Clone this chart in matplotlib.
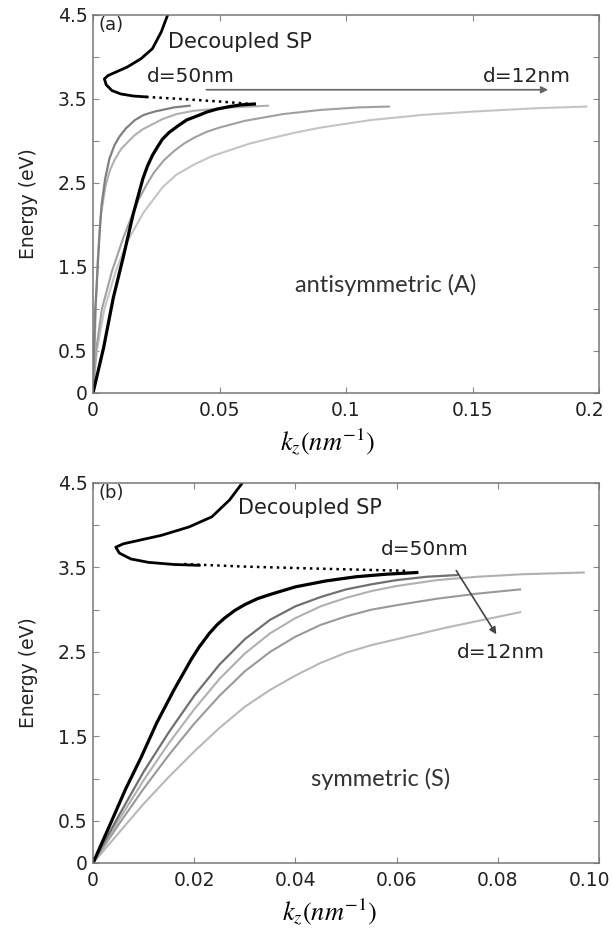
import numpy as np
import matplotlib
matplotlib.use('Agg')
import matplotlib.pyplot as plt
from matplotlib.transforms import ScaledTranslation

plt.rcParams['font.family'] = 'DejaVu Sans'
plt.rcParams['mathtext.fontset'] = 'stix'

# decoupled surface plasmon branch (same in both panels)
sp_k = [0.0295, 0.027, 0.0235, 0.019, 0.0135, 0.009, 0.006, 0.0045, 0.0052, 0.0075, 0.011, 0.016, 0.021]
sp_E = [4.5, 4.3, 4.1, 3.98, 3.88, 3.82, 3.78, 3.74, 3.67, 3.6, 3.56, 3.535, 3.525]

# dotted continuation
dot_a_k = [0.021, 0.035, 0.05, 0.063]
dot_a_E = [3.525, 3.50, 3.47, 3.44]
dot_b_k = [0.018, 0.03, 0.045, 0.062]
dot_b_E = [3.54, 3.51, 3.485, 3.46]

# (a) antisymmetric modes
a_black_k = [0, 0.0042, 0.008, 0.0119, 0.0158, 0.0197, 0.0215, 0.0235, 0.0255, 0.0274, 0.030,
             0.0336, 0.037, 0.0413, 0.045, 0.049, 0.054, 0.0584, 0.0638]
a_black_E = [0, 0.54, 1.13, 1.61, 2.12, 2.55, 2.70, 2.83, 2.93, 3.02, 3.10,
             3.18, 3.25, 3.30, 3.345, 3.38, 3.41, 3.43, 3.44]

a_g1_k = [0, 0.0004, 0.0009, 0.0015, 0.0019, 0.0026, 0.0034, 0.0048, 0.0065, 0.0085, 0.0104,
          0.013, 0.0166, 0.02, 0.0243, 0.032, 0.0382]
a_g1_E = [0, 0.5, 1.0, 1.3, 1.53, 1.9, 2.24, 2.55, 2.79, 2.95, 3.05,
          3.15, 3.25, 3.31, 3.35, 3.40, 3.42]

a_g2_k = [0, 0.0006, 0.0012, 0.0019, 0.003, 0.005, 0.0068, 0.0088, 0.011, 0.0135, 0.0165,
          0.0197, 0.0274, 0.033, 0.0398, 0.0553, 0.0692]
a_g2_E = [0, 0.5, 1.1, 1.6, 2.1, 2.47, 2.66, 2.79, 2.9, 2.98, 3.07,
          3.14, 3.26, 3.32, 3.36, 3.40, 3.42]

a_g3_k = [0, 0.0012, 0.0035, 0.0075, 0.012, 0.015, 0.018, 0.021, 0.024, 0.028, 0.032, 0.036, 0.04,
          0.045, 0.05, 0.06, 0.075, 0.09, 0.105, 0.117]
a_g3_E = [0, 0.5, 1.0, 1.45, 1.85, 2.08, 2.3, 2.47, 2.62, 2.77, 2.88, 2.97, 3.04,
          3.11, 3.16, 3.24, 3.32, 3.37, 3.40, 3.41]

a_g4_k = [0, 0.0015, 0.0045, 0.009, 0.0135, 0.02, 0.0275, 0.033, 0.04, 0.047, 0.055, 0.062, 0.07,
          0.08, 0.09, 0.11, 0.13, 0.15, 0.175, 0.195]
a_g4_E = [0, 0.5, 1.0, 1.45, 1.8, 2.15, 2.45, 2.6, 2.72, 2.82, 2.9, 2.97, 3.03,
          3.1, 3.16, 3.25, 3.31, 3.35, 3.39, 3.41]

# (b) symmetric modes
b_black_k = [0, 0.0037, 0.0064, 0.0095, 0.0126, 0.016, 0.0195, 0.021, 0.023, 0.0245, 0.026, 0.028,
             0.030, 0.0325, 0.035, 0.040, 0.046, 0.052, 0.058, 0.064]
b_black_E = [0, 0.5, 0.87, 1.25, 1.66, 2.05, 2.42, 2.56, 2.72, 2.82, 2.9, 2.99,
             3.06, 3.13, 3.18, 3.27, 3.34, 3.39, 3.42, 3.44]

b_g1_k = [0, 0.005, 0.01, 0.015, 0.02, 0.025, 0.03, 0.035, 0.04, 0.045, 0.05, 0.055, 0.06, 0.066, 0.072]
b_g1_E = [0, 0.55, 1.08, 1.55, 1.98, 2.35, 2.65, 2.88, 3.04, 3.15, 3.24, 3.30, 3.35, 3.39, 3.41]

b_g2_k = [0, 0.005, 0.01, 0.015, 0.02, 0.025, 0.03, 0.035, 0.04, 0.045, 0.05, 0.055, 0.06, 0.068, 0.076, 0.085, 0.097]
b_g2_E = [0, 0.5, 0.98, 1.42, 1.82, 2.18, 2.48, 2.72, 2.9, 3.04, 3.14, 3.22, 3.28, 3.35, 3.39, 3.42, 3.44]

b_g3_k = [0, 0.005, 0.01, 0.015, 0.02, 0.025, 0.03, 0.035, 0.04, 0.045, 0.05, 0.055, 0.0607, 0.068, 0.076, 0.0844]
b_g3_E = [0, 0.45, 0.88, 1.28, 1.65, 1.98, 2.27, 2.5, 2.68, 2.82, 2.92, 3.0, 3.06, 3.13, 3.19, 3.24]

b_g4_k = [0, 0.005, 0.01, 0.015, 0.02, 0.025, 0.03, 0.035, 0.04, 0.045, 0.05, 0.055, 0.0607, 0.07, 0.0844]
b_g4_E = [0, 0.35, 0.7, 1.02, 1.32, 1.6, 1.85, 2.05, 2.22, 2.37, 2.49, 2.58, 2.66, 2.79, 2.97]

y_ticks = [0, 0.5, 1, 1.5, 2, 2.5, 3, 3.5, 4, 4.5]
y_labels = ['0', '0.5', '', '1.5', '', '2.5', '', '3.5', '', '4.5']
xa_ticks = [0, 0.05, 0.1, 0.15, 0.2]
xa_labels = ['0', '0.05', '0.1', '0.15', '0.2']
xb_ticks = [0, 0.02, 0.04, 0.06, 0.08, 0.1]
xb_labels = ['0', '0.02', '0.04', '0.06', '0.08', '0.10']

W, H = 613, 932
fig = plt.figure(figsize=(W / 100, H / 100), dpi=100)
ax1 = fig.add_axes([93 / W, 1 - 393 / H, 506 / W, 378 / H])
ax2 = fig.add_axes([93 / W, 1 - 863 / H, 506 / W, 380 / H])


def style_axes(ax, xmax, xt, xl):
    ax.set_xlim(0, xmax)
    ax.set_ylim(0, 4.5)
    ax.set_xticks(xt)
    ax.set_xticklabels(xl)
    ax.set_yticks(y_ticks)
    ax.set_yticklabels(y_labels)
    ax.tick_params(direction='in', length=4, width=0.8, color='#888888',
                   top=True, right=True, labelsize=13.5, labelcolor='#222222')
    ax.tick_params(axis='x', pad=6)
    ax.tick_params(axis='y', pad=4)
    for s in ax.spines.values():
        s.set_color('#777777')
        s.set_linewidth(1.1)
    ax.set_ylabel('Energy (eV)', fontsize=13.5, color='#222222', labelpad=14)
    # last x label sits on the figure edge, nudge it inside
    last = ax.get_xticklabels()[-1]
    last.set_transform(last.get_transform() + ScaledTranslation(-9 / 100, 0, fig.dpi_scale_trans))


# panel (a)
ax1.plot(a_g4_k, a_g4_E, color='#c4c4c4', lw=1.5)
ax1.plot(a_g3_k, a_g3_E, color='#a0a0a0', lw=1.5)
ax1.plot(a_g2_k, a_g2_E, color='#b0b0b0', lw=1.5)
ax1.plot(a_g1_k, a_g1_E, color='#808080', lw=1.6)
ax1.plot(a_black_k, a_black_E, color='black', lw=2.3)
ax1.plot(sp_k, sp_E, color='black', lw=2.0)
ax1.plot(dot_a_k, dot_a_E, color='black', lw=1.8, ls=':')
ax1.annotate('', xy=(0.181, 3.61), xytext=(0.0437, 3.61),
             arrowprops=dict(arrowstyle='-|>', color='#666666', lw=1.2,
                             mutation_scale=10))
ax1.text(0.002, 4.38, '(a)', fontsize=13, color='#222222', va='center')
ax1.text(0.0297, 4.18, 'Decoupled SP', fontsize=15, color='#222222', va='center')
ax1.text(0.0212, 3.77, 'd=50nm', fontsize=14.5, color='#222222', va='center')
ax1.text(0.154, 3.77, 'd=12nm', fontsize=14.5, color='#222222', va='center')
ax1.text(0.1156, 1.29, 'antisymmetric (A)', fontsize=17, family='Lato',
         color='#333333', ha='center', va='center')
style_axes(ax1, 0.2, xa_ticks, xa_labels)

# panel (b)
ax2.plot(b_g4_k, b_g4_E, color='#b8b8b8', lw=1.5)
ax2.plot(b_g3_k, b_g3_E, color='#999999', lw=1.5)
ax2.plot(b_g2_k, b_g2_E, color='#b0b0b0', lw=1.5)
ax2.plot(b_g1_k, b_g1_E, color='#707070', lw=1.6)
ax2.plot(b_black_k, b_black_E, color='black', lw=2.3)
ax2.plot(sp_k, sp_E, color='black', lw=2.0)
ax2.plot(dot_b_k, dot_b_E, color='black', lw=1.8, ls=':')
ax2.annotate('', xy=(0.080, 2.68), xytext=(0.0715, 3.49),
             arrowprops=dict(arrowstyle='-|>', color='#444444', lw=1.2,
                             mutation_scale=10))
ax2.text(0.001, 4.38, '(b)', fontsize=13, color='#222222', va='center')
ax2.text(0.0287, 4.20, 'Decoupled SP', fontsize=15, color='#222222', va='center')
ax2.text(0.0569, 3.71, 'd=50nm', fontsize=14.5, color='#222222', va='center')
ax2.text(0.0719, 2.49, 'd=12nm', fontsize=14.5, color='#222222', va='center')
ax2.text(0.0569, 0.99, 'symmetric (S)', fontsize=17, family='Lato',
         color='#333333', ha='center', va='center')
style_axes(ax2, 0.1, xb_ticks, xb_labels)

# x labels in math italic
fig.text(328 / W, 1 - 442 / H, r'$k_z(nm^{-1})$', fontsize=19, ha='center', va='center')
fig.text(330 / W, 1 - 912 / H, r'$k_z(nm^{-1})$', fontsize=19, ha='center', va='center')

fig.savefig('out.png', dpi=100)
